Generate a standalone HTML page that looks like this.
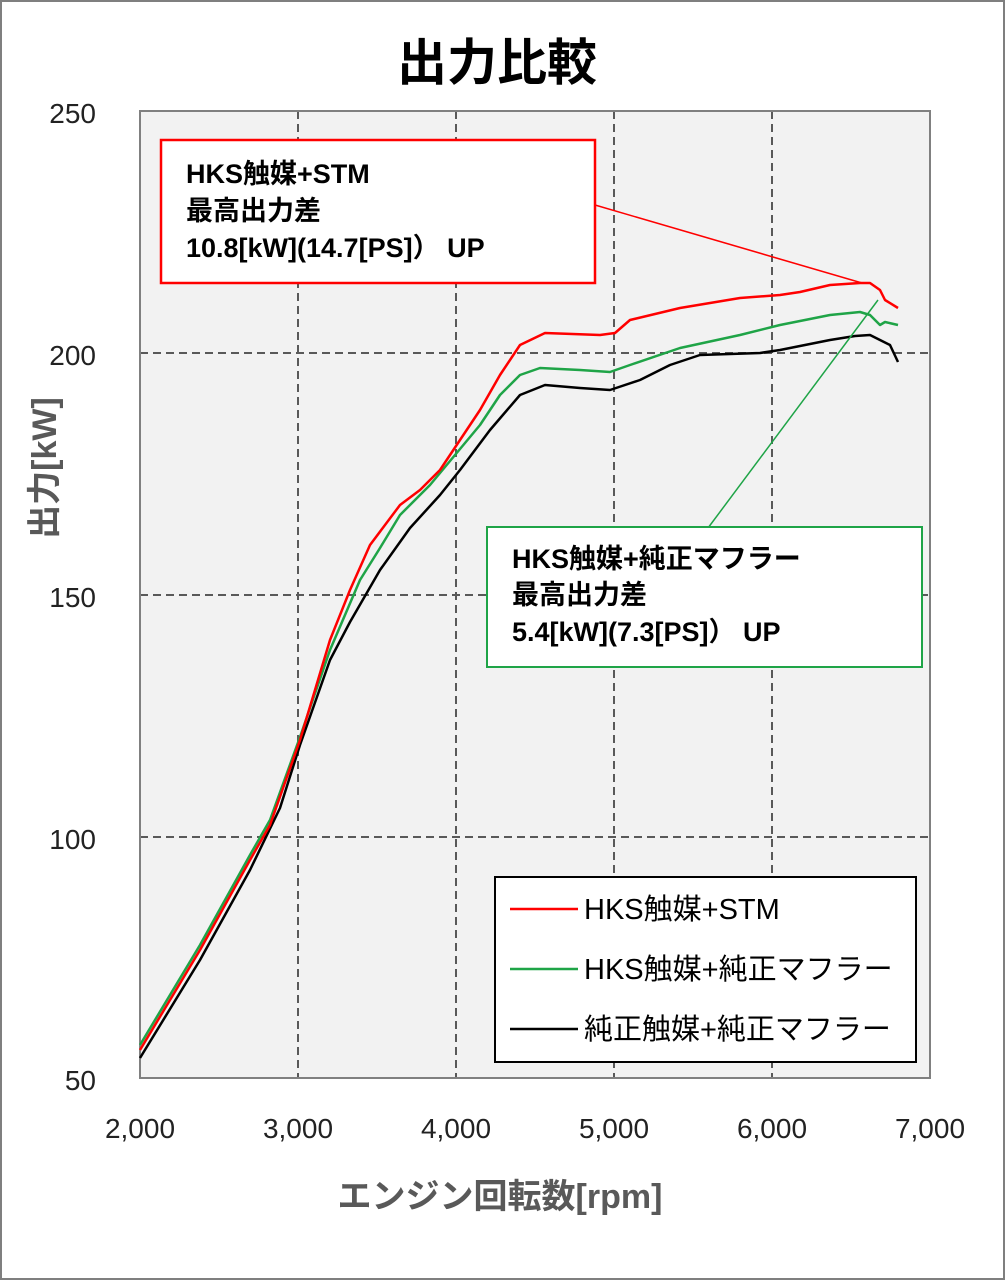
<!DOCTYPE html>
<html><head><meta charset="utf-8"><style>
body{margin:0;background:#fff;}
svg{display:block;font-family:"Liberation Sans","Noto Sans CJK JP",sans-serif;}
</style></head><body>
<svg width="1005" height="1280" viewBox="0 0 1005 1280">
<rect x="1" y="1" width="1003" height="1278" fill="#fff" stroke="#7f7f7f" stroke-width="2"/>
<text x="497" y="80" text-anchor="middle" font-size="50" font-weight="bold" fill="#000">出力比較</text>
<rect x="140" y="111" width="790" height="967" fill="#f2f2f2"/>
<g stroke="#595959" stroke-width="2" stroke-dasharray="8,5" fill="none">
<line x1="298" y1="111" x2="298" y2="1078"/><line x1="456" y1="111" x2="456" y2="1078"/>
<line x1="614" y1="111" x2="614" y2="1078"/><line x1="772" y1="111" x2="772" y2="1078"/>
<line x1="140" y1="353" x2="930" y2="353"/><line x1="140" y1="595" x2="930" y2="595"/>
<line x1="140" y1="837" x2="930" y2="837"/>
</g>
<rect x="140" y="111" width="790" height="967" fill="none" stroke="#808080" stroke-width="2"/>
<g font-size="28" fill="#222" text-anchor="end">
<text x="96" y="123">250</text><text x="96" y="365">200</text><text x="96" y="607">150</text>
<text x="96" y="849">100</text><text x="96" y="1090">50</text>
</g>
<g font-size="28" fill="#222" text-anchor="middle">
<text x="140" y="1138">2,000</text><text x="298" y="1138">3,000</text><text x="456" y="1138">4,000</text>
<text x="614" y="1138">5,000</text><text x="772" y="1138">6,000</text><text x="930" y="1138">7,000</text>
</g>
<text x="500" y="1208" text-anchor="middle" font-size="34" font-weight="bold" fill="#595959">エンジン回転数[rpm]</text>
<text transform="translate(56,468) rotate(-90)" text-anchor="middle" font-size="34" font-weight="bold" fill="#595959">出力[kW]</text>
<g fill="none" stroke-width="2.5" stroke-linejoin="round">
<polyline stroke="#000" points="140,1058 200,960 250,870 280,808 300,745 330,660 350,622 380,570 410,528 440,495 460,470 490,430 520,395 545,385 580,388 610,390 640,380 670,365 700,355 760,353 780,350 830,340 855,336 870,335 880,340 890,345 898,362"/>
<polyline stroke="#1fa447" points="140,1045 200,945 250,855 270,820 300,737 330,650 360,580 380,548 400,515 430,485 455,455 480,425 500,395 520,375 540,368 580,370 610,372 630,365 680,348 740,335 780,325 830,315 860,312 870,315 880,325 885,322 898,325"/>
<polyline stroke="#ff0000" points="140,1050 200,950 250,860 270,825 300,740 330,640 350,590 370,545 400,505 420,490 440,470 460,440 480,410 500,375 520,345 545,333 600,335 615,333 630,320 680,308 740,298 780,295 800,292 830,285 860,283 870,283 880,290 885,300 898,308"/>
</g>
<line x1="595" y1="205" x2="862" y2="283" stroke="#ff0000" stroke-width="1.5"/>
<line x1="708" y1="528" x2="878" y2="300" stroke="#1fa447" stroke-width="1.5"/>
<rect x="161" y="140" width="434" height="143" fill="#fff" stroke="#ff0000" stroke-width="2.5"/>
<g font-size="27" font-weight="bold" fill="#000">
<text x="186" y="183">HKS触媒+STM</text><text x="186" y="220">最高出力差</text><text x="186" y="257">10.8[kW](14.7[PS]） UP</text>
</g>
<rect x="487" y="527" width="435" height="140" fill="#fff" stroke="#1fa447" stroke-width="2"/>
<g font-size="27" font-weight="bold" fill="#000">
<text x="512" y="568">HKS触媒+純正マフラー</text><text x="512" y="604">最高出力差</text><text x="512" y="641">5.4[kW](7.3[PS]） UP</text>
</g>
<rect x="495" y="877" width="421" height="185" fill="#fff" stroke="#000" stroke-width="2"/>
<line x1="510" y1="909" x2="578" y2="909" stroke="#ff0000" stroke-width="2.5"/>
<line x1="510" y1="969" x2="578" y2="969" stroke="#1fa447" stroke-width="2.5"/>
<line x1="510" y1="1029" x2="578" y2="1029" stroke="#000" stroke-width="2.5"/>
<g font-size="29" fill="#000">
<text x="584" y="919">HKS触媒+STM</text><text x="584" y="979">HKS触媒+純正マフラー</text><text x="584" y="1039">純正触媒+純正マフラー</text>
</g>
</svg>
</body></html>
